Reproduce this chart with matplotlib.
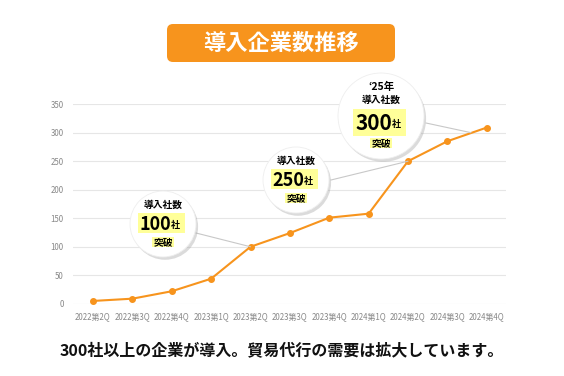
import matplotlib.pyplot as plt
import matplotlib.patheffects as pe
from matplotlib.patches import Circle, FancyBboxPatch, Rectangle, ConnectionPatch

plt.rcParams['font.family'] = ['Noto Sans CJK JP', 'DejaVu Sans']

quarters = ['2022第2Q', '2022第3Q', '2022第4Q', '2023第1Q', '2023第2Q', '2023第3Q',
            '2023第4Q', '2024第1Q', '2024第2Q', '2024第3Q', '2024第4Q']
companies = [5, 9, 22, 44, 100, 124, 151, 158, 250, 285, 309]
yticks = [0, 50, 100, 150, 200, 250, 300, 350]

orange = '#F7941D'

fig = plt.figure(figsize=(5.64, 3.76), dpi=100)
ax = fig.add_axes([0.130, 0.192, 0.768, 0.531])
x = range(len(quarters))
ax.plot(x, companies, color=orange, lw=1.5, marker='o', markersize=4, zorder=3)
ax.set_xlim(-0.5, len(quarters) - 0.5)
ax.set_ylim(0, 350)
ax.set_yticks(yticks)
ax.set_xticks(list(x))
ax.set_xticklabels(quarters)
ax.tick_params(axis='both', length=0, labelsize=5.7, colors='#888888')
ax.tick_params(axis='y', pad=7)
ax.tick_params(axis='x', pad=6)
ax.grid(axis='y', color='#e6e6e6', lw=0.8)
for s in ax.spines.values():
    s.set_visible(False)

# overlay in pixel units for the title box and callouts
ov = fig.add_axes([0, 0, 1, 1], zorder=5)
ov.set_xlim(0, 564)
ov.set_ylim(376, 0)
ov.axis('off')
ov.patch.set_alpha(0)

box = FancyBboxPatch((167, 24), 228, 38, boxstyle='round,pad=0,rounding_size=6',
                     fc=orange, ec='none')
ov.add_patch(box)
ov.text(281, 43.5, '導入企業数推移', color='white', fontsize=16, fontweight='bold',
        ha='center', va='center')

# callouts: (center, radius, number, target, line start, number size, with year)
callouts = [
    ((163, 224), 33, '100', (4, 100), (196, 233), 13, False),
    ((296, 180), 33, '250', (8, 250), (331, 180), 13, False),
    ((381, 116), 43, '300', (9.6, 300), (426, 123), 15, True),
]

for (cx, cy), r, num, tgt, start, nsize, year in callouts:
    con = ConnectionPatch(xyA=start, coordsA=ov.transData, xyB=tgt, coordsB=ax.transData,
                          color='#c8c8c8', lw=0.8, zorder=1)
    ov.add_artist(con)
    c = Circle((cx, cy), r, fc='white', ec='#eeeeee', lw=0.6, zorder=2,
               path_effects=[pe.SimplePatchShadow(offset=(1.5, -2), shadow_rgbFace='#999999', alpha=0.35),
                             pe.Normal()])
    ov.add_patch(c)
    if year:
        ov.text(cx, cy - 29, '‘25年', fontsize=7.5, fontweight='bold', ha='center', va='center', zorder=4)
        ny, ly, by = cy + 6, cy - 16, cy + 27
        w, h, split = 53, 27, cx + 11
    else:
        ny, ly, by = cy - 1, cy - 19, cy + 18
        w, h, split = 47, 20, cx + 8
    ov.text(cx, ly, '導入社数', fontsize=7, fontweight='bold', ha='center', va='center', zorder=4)
    ov.add_patch(Rectangle((cx - w / 2 - 2, ny - h / 2), w, h, fc='#FFFF99', ec='none', zorder=3))
    ov.text(split, ny + 1, num, fontsize=nsize, fontweight='bold', ha='right', va='center', zorder=4)
    ov.text(split, ny + 2, '社', fontsize=6.5, fontweight='bold', ha='left', va='center', zorder=4)
    ov.add_patch(Rectangle((cx - 11, by - 5), 22, 10, fc='#FFFF99', ec='none', zorder=3))
    ov.text(cx, by, '突破', fontsize=7, fontweight='bold', ha='center', va='center', zorder=4)

ov.text(282, 350, '300社以上の企業が導入。貿易代行の需要は拡大しています。', fontsize=11.5,
        fontweight='bold', ha='center', va='center', color='#111111')

fig.savefig('out.png', dpi=100)
